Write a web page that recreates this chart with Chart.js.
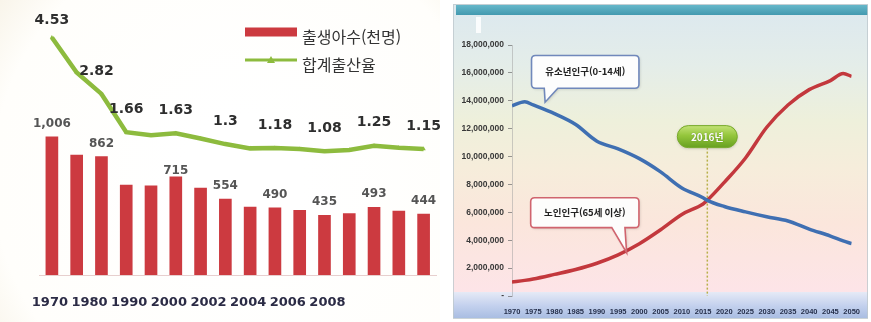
<!DOCTYPE html>
<html lang="ko">
<head>
<meta charset="utf-8">
<title>출생아수 · 합계출산율 / 유소년·노인인구 추이</title>
<script src="https://cdn.jsdelivr.net/npm/chart.js@4.4.1/dist/chart.umd.min.js"></script>
<style>
  html, body { margin: 0; padding: 0; background: #ffffff; }
  body { width: 871px; height: 322px; position: relative; overflow: hidden; }
  #birthChart { position: absolute; left: 0; top: 0; }
  #popChart { position: absolute; left: 450px; top: 0; }
</style>
</head>
<body>
<canvas id="birthChart" width="440" height="322"></canvas>
<canvas id="popChart" width="421" height="322"></canvas>
<script>
// ---- 출생아수(천명) / 합계출산율 ----
const birthYears = ['1970', '1975', '1980', '1985', '1990', '1995', '2000', '2001',
                    '2002', '2003', '2004', '2005', '2006', '2007', '2008', '2009'];
const births = [1006, 874, 862, 655, 649, 715, 634, 554, 495, 490, 472, 435, 448, 493, 466, 444];
const fertility = [4.53, 3.47, 2.82, 1.66, 1.57, 1.63, 1.47, 1.30, 1.17, 1.18, 1.15, 1.08, 1.12, 1.25, 1.19, 1.15];
const birthAxisLabels = ['1970', '1980', '1990', '2000', '2002', '2004', '2006', '2008'];
const birthLabelAt = [0, 2, 5, 7, 9, 11, 13, 15];
const fertilityLabelAt = [0, 2, 3, 5, 7, 9, 11, 13, 15];

// ---- 유소년인구(0-14세) / 노인인구(65세 이상), 명 ----
const popYears = [1970, 1973, 1975, 1980, 1985, 1990, 1995, 2000, 2005, 2010,
                  2015, 2016, 2020, 2025, 2030, 2035, 2040, 2045, 2048, 2050];
const youthPop = [13640000, 13930000, 13700000, 13080000, 12300000, 11100000, 10550000, 9850000, 8900000, 7750000,
                  7050000, 6860000, 6420000, 6030000, 5680000, 5380000, 4800000, 4300000, 3950000, 3760000];
const elderlyPop = [1000000, 1120000, 1220000, 1550000, 1900000, 2350000, 2950000, 3750000, 4750000, 5850000,
                    6600000, 6860000, 8150000, 9900000, 12100000, 13700000, 14800000, 15450000, 15950000, 15750000];
const popTickYears = { min: 1970, max: 2050, step: 5 };
const crossYear = 2016;

const BOLD_NUM = '"DejaVu Sans", sans-serif';
const KR = '"Noto Sans CJK KR", "Noto Sans", sans-serif';

// soft paper background of the left panel
const birthBackground = {
  id: 'birthBackground',
  beforeDraw(chart) {
    const { ctx, width, height } = chart;
    ctx.save();
    const g = ctx.createRadialGradient(width * 0.55, height * 0.55, 60, width * 0.55, height * 0.55, 330);
    g.addColorStop(0, '#ffffff');
    g.addColorStop(0.7, '#fffefb');
    g.addColorStop(1, '#f5efe0');
    ctx.fillStyle = g;
    ctx.fillRect(0, 0, width, height);
    ctx.restore();
  }
};

// value labels above bars and line points
const birthValueLabels = {
  id: 'birthValueLabels',
  afterDatasetsDraw(chart, args, opts) {
    const ctx = chart.ctx;
    chart.data.datasets.forEach((ds, di) => {
      const meta = chart.getDatasetMeta(di);
      const isBar = ds.type === 'bar';
      const picks = isBar ? birthLabelAt : fertilityLabelAt;
      const shift = isBar ? opts.barShift : opts.lineShift;
      const base = isBar ? opts.barOffset : opts.lineOffset;
      ctx.save();
      ctx.textAlign = 'center';
      ctx.textBaseline = 'middle';
      ctx.font = isBar ? 'bold 12px ' + BOLD_NUM : 'bold 14px ' + BOLD_NUM;
      ctx.fillStyle = isBar ? '#555555' : '#2e2e2e';
      picks.forEach(i => {
        const el = meta.data[i];
        const v = ds.data[i];
        const text = isBar ? v.toLocaleString('en-US') : String(v);
        const [dx, dy] = shift[i] || [0, base];
        ctx.fillText(text, el.x + dx, el.y + dy);
      });
      ctx.restore();
    });
  }
};

// legend: bar swatch and line-with-marker swatch, stacked
const birthLegend = {
  id: 'birthLegend',
  afterDraw(chart, args, opts) {
    const ctx = chart.ctx;
    const x = opts.x, w = opts.swatch;
    ctx.save();
    chart.data.datasets.slice().reverse().forEach((ds, k) => {
      const cy = opts.y + k * opts.gap;
      if (ds.type === 'bar') {
        ctx.fillStyle = ds.backgroundColor;
        ctx.fillRect(x, cy - 4.5, w, 9);
      } else {
        ctx.strokeStyle = ds.borderColor;
        ctx.lineWidth = 3;
        ctx.beginPath();
        ctx.moveTo(x, cy);
        ctx.lineTo(x + w, cy);
        ctx.stroke();
        ctx.fillStyle = ds.borderColor;
        ctx.beginPath();
        ctx.moveTo(x + w / 2, cy - 4);
        ctx.lineTo(x + w / 2 + 4, cy + 3);
        ctx.lineTo(x + w / 2 - 4, cy + 3);
        ctx.closePath();
        ctx.fill();
      }
      ctx.fillStyle = '#333333';
      ctx.font = '16px ' + KR;
      ctx.textAlign = 'left';
      ctx.textBaseline = 'middle';
      ctx.fillText(ds.label, x + w + 5, cy + opts.textDrop);
    });
    ctx.restore();
  }
};

new Chart(document.getElementById('birthChart'), {
  data: {
    labels: birthYears,
    datasets: [
      {
        type: 'line', label: '합계출산율', data: fertility,
        xAxisID: 'x', yAxisID: 'yRate',
        borderColor: '#8dbb3e', backgroundColor: '#8dbb3e',
        borderWidth: 4.5, tension: 0,
        pointStyle: 'triangle', pointRadius: 2.5, pointBorderWidth: 0,
        order: 0
      },
      {
        type: 'bar', label: '출생아수(천명)', data: births,
        xAxisID: 'x', yAxisID: 'yBirth',
        backgroundColor: '#cc3a40', barThickness: 12,
        order: 1
      }
    ]
  },
  options: {
    responsive: false,
    animation: false,
    devicePixelRatio: 1,
    layout: { padding: { left: 39.5, right: 0.5, top: 10, bottom: 0 } },
    plugins: {
      legend: { display: false },
      tooltip: { enabled: false },
      birthValueLabels: {
        lineOffset: -23, barOffset: -13,
        lineShift: { 0: [0, -17.5], 2: [-5, -23] },
        barShift: { 5: [0, -6] }
      },
      birthLegend: { x: 245, y: 32, gap: 28, swatch: 52, textDrop: 5 }
    },
    scales: {
      x: { type: 'category', display: false, offset: true, grid: { display: false } },
      xYear: {
        type: 'linear', position: 'bottom',
        min: -0.2625, max: 9.7375,
        afterBuildTicks(scale) { scale.ticks = birthAxisLabels.map((_, i) => ({ value: i })); },
        afterFit(scale) { scale.height = 47; },
        ticks: {
          callback: v => birthAxisLabels[v],
          autoSkip: false, maxRotation: 0, padding: 20,
          font: { family: 'DejaVu Sans', size: 13, weight: 'bold' },
          color: '#2b2b45'
        },
        grid: { display: false, drawTicks: false },
        border: { display: true, color: 'rgba(215,175,175,0.6)' }
      },
      yBirth: { display: false, min: 0, max: 1931 },
      yRate: { display: false, min: -2.667, max: 5.363 }
    }
  },
  plugins: [birthBackground, birthValueLabels, birthLegend]
});

// ---- right panel ----
const popFrame = {
  id: 'popFrame',
  beforeDraw(chart) {
    const { ctx, width, height } = chart;
    ctx.save();
    ctx.fillStyle = '#ffffff';
    ctx.fillRect(0, 0, width, height);
    const L = 3, R = 418;
    // panel body
    const g = ctx.createLinearGradient(0, 15, 0, 293);
    g.addColorStop(0.00, '#dde9ee');
    g.addColorStop(0.18, '#e4ede9');
    g.addColorStop(0.38, '#eef0db');
    g.addColorStop(0.55, '#f6eddb');
    g.addColorStop(0.75, '#fbe6dc');
    g.addColorStop(1.00, '#fde4e8');
    ctx.fillStyle = g;
    ctx.fillRect(L, 4, R - L, 290);
    // header strip
    const h = ctx.createLinearGradient(0, 5, 0, 16);
    h.addColorStop(0, '#66b7c9');
    h.addColorStop(1, '#3f96ad');
    ctx.fillStyle = h;
    ctx.fillRect(L + 3, 5, R - L - 3, 10);
    // axis band
    const b = ctx.createLinearGradient(0, 292, 0, 318);
    b.addColorStop(0, '#e6eaf6');
    b.addColorStop(0.5, '#c5d2ee');
    b.addColorStop(1, '#a9bde2');
    ctx.fillStyle = b;
    ctx.fillRect(L, 292, R - L, 26);
    // light glare near the axis head
    ctx.fillStyle = 'rgba(255,255,255,0.85)';
    ctx.fillRect(26, 17, 5, 16);
    // panel edge
    ctx.strokeStyle = 'rgba(190,200,205,0.8)';
    ctx.lineWidth = 1;
    ctx.strokeRect(L + 0.5, 4.5, R - L - 1, 314);
    ctx.restore();
  }
};

function calloutPath(ctx, x0, y0, x1, y1, r, t0, t1, tx, ty) {
  ctx.beginPath();
  ctx.moveTo(x0 + r, y0);
  ctx.lineTo(x1 - r, y0);
  ctx.quadraticCurveTo(x1, y0, x1, y0 + r);
  ctx.lineTo(x1, y1 - r);
  ctx.quadraticCurveTo(x1, y1, x1 - r, y1);
  ctx.lineTo(t1, y1);
  ctx.lineTo(tx, ty);
  ctx.lineTo(t0, y1);
  ctx.lineTo(x0 + r, y1);
  ctx.quadraticCurveTo(x0, y1, x0, y1 - r);
  ctx.lineTo(x0, y0 + r);
  ctx.quadraticCurveTo(x0, y0, x0 + r, y0);
  ctx.closePath();
}

const popNotes = {
  id: 'popNotes',
  beforeDatasetsDraw(chart, args, opts) {
    const { ctx, scales: { x, y }, chartArea } = chart;
    const px = x.getPixelForValue(opts.marker.year);
    const top = y.getPixelForValue(opts.marker.value) + opts.marker.h / 2;
    ctx.save();
    ctx.strokeStyle = '#b8b04a';
    ctx.lineWidth = 1.5;
    ctx.setLineDash([2, 2]);
    ctx.beginPath();
    ctx.moveTo(px, top);
    ctx.lineTo(px, chartArea.bottom);
    ctx.stroke();
    ctx.restore();
  },
  afterDatasetsDraw(chart, args, opts) {
    const { ctx, scales: { x, y } } = chart;
    ctx.save();
    opts.callouts.forEach(c => {
      const x0 = x.getPixelForValue(c.from[0]), y0 = y.getPixelForValue(c.from[1]);
      const x1 = x.getPixelForValue(c.to[0]), y1 = y.getPixelForValue(c.to[1]);
      const t0 = x.getPixelForValue(c.tail[0]), t1 = x.getPixelForValue(c.tail[1]);
      const tx = x.getPixelForValue(c.tip[0]), ty = y.getPixelForValue(c.tip[1]);
      ctx.save();
      ctx.shadowColor = 'rgba(0,0,0,0.18)';
      ctx.shadowBlur = 3;
      ctx.shadowOffsetX = 1;
      ctx.shadowOffsetY = 1;
      calloutPath(ctx, x0, y0, x1, y1, 4, t0, t1, tx, ty);
      ctx.fillStyle = 'rgba(255,255,255,0.96)';
      ctx.fill();
      ctx.restore();
      calloutPath(ctx, x0, y0, x1, y1, 4, t0, t1, tx, ty);
      ctx.strokeStyle = c.color;
      ctx.lineWidth = 1.6;
      ctx.stroke();
      ctx.fillStyle = '#222222';
      ctx.font = 'bold 9.5px ' + KR;
      ctx.textAlign = 'center';
      ctx.textBaseline = 'middle';
      ctx.fillText(c.text, (x0 + x1) / 2, (y0 + y1) / 2);
    });
    // year marker pill
    const m = opts.marker;
    const cx = x.getPixelForValue(m.year), cy = y.getPixelForValue(m.value);
    const w = m.w, h = m.h, r = h / 2;
    const g = ctx.createLinearGradient(0, cy - h / 2, 0, cy + h / 2);
    g.addColorStop(0, '#c3e277');
    g.addColorStop(0.45, '#94c63c');
    g.addColorStop(1, '#67a020');
    ctx.save();
    ctx.shadowColor = 'rgba(0,0,0,0.2)';
    ctx.shadowBlur = 3;
    ctx.shadowOffsetY = 1;
    ctx.beginPath();
    ctx.roundRect(cx - w / 2, cy - h / 2, w, h, r);
    ctx.fillStyle = g;
    ctx.fill();
    ctx.restore();
    ctx.beginPath();
    ctx.roundRect(cx - w / 2, cy - h / 2, w, h, r);
    ctx.strokeStyle = '#78aa2c';
    ctx.lineWidth = 1;
    ctx.stroke();
    ctx.fillStyle = '#ffffff';
    ctx.font = 'bold 10px ' + KR;
    ctx.textAlign = 'center';
    ctx.textBaseline = 'middle';
    ctx.shadowColor = 'rgba(60,90,10,0.7)';
    ctx.shadowBlur = 1;
    ctx.fillText(m.text, cx, cy + 0.5);
    ctx.restore();
  }
};

new Chart(document.getElementById('popChart'), {
  type: 'line',
  data: {
    datasets: [
      {
        label: '유소년인구(0-14세)',
        data: popYears.map((yr, i) => ({ x: yr, y: youthPop[i] })),
        borderColor: '#3f6fb2', borderWidth: 3.5, pointRadius: 0,
        cubicInterpolationMode: 'monotone'
      },
      {
        label: '노인인구(65세 이상)',
        data: popYears.map((yr, i) => ({ x: yr, y: elderlyPop[i] })),
        borderColor: '#c3383d', borderWidth: 3.5, pointRadius: 0,
        cubicInterpolationMode: 'monotone'
      }
    ]
  },
  options: {
    responsive: false,
    animation: false,
    devicePixelRatio: 1,
    layout: { padding: { left: 0, right: 9, top: 45, bottom: 0 } },
    plugins: {
      legend: { display: false },
      tooltip: { enabled: false },
      popNotes: {
        callouts: [
          { text: '유소년인구(0-14세)', from: [1974.6, 17.25e6], to: [1999.9, 14.9e6],
            tail: [1977.6, 1980.8], tip: [1977.8, 13.9e6], color: '#7088bb' },
          { text: '노인인구(65세 이상)', from: [1974.4, 7.05e6], to: [1999.9, 4.9e6],
            tail: [1993.5, 1996.6], tip: [1997.0, 3.1e6], color: '#d0646e' }
        ],
        marker: { year: crossYear, value: 11.43e6, text: crossYear + '년', w: 60, h: 22 }
      }
    },
    scales: {
      x: {
        type: 'linear', min: popTickYears.min, max: popTickYears.max,
        afterFit(scale) { scale.height = 26; },
        ticks: {
          stepSize: popTickYears.step, callback: v => String(v),
          autoSkip: false, maxRotation: 0, padding: 11,
          font: { family: 'Liberation Sans', size: 7.5, weight: 'bold' },
          color: '#26304c'
        },
        grid: { display: false, drawTicks: false },
        border: { display: false }
      },
      y: {
        min: 0, max: 18000000,
        afterFit(scale) { scale.width = 62; },
        ticks: {
          stepSize: 2000000,
          callback: v => v === 0 ? '-' : v.toLocaleString('en-US'),
          padding: 4,
          font: { family: 'Liberation Sans', size: 8.5, weight: 'bold' },
          color: '#383838'
        },
        grid: { drawOnChartArea: false, tickLength: 4, color: 'rgba(110,110,110,0.7)' },
        border: { color: 'rgba(160,160,160,0.5)' }
      }
    }
  },
  plugins: [popFrame, popNotes]
});
</script>
</body>
</html>
